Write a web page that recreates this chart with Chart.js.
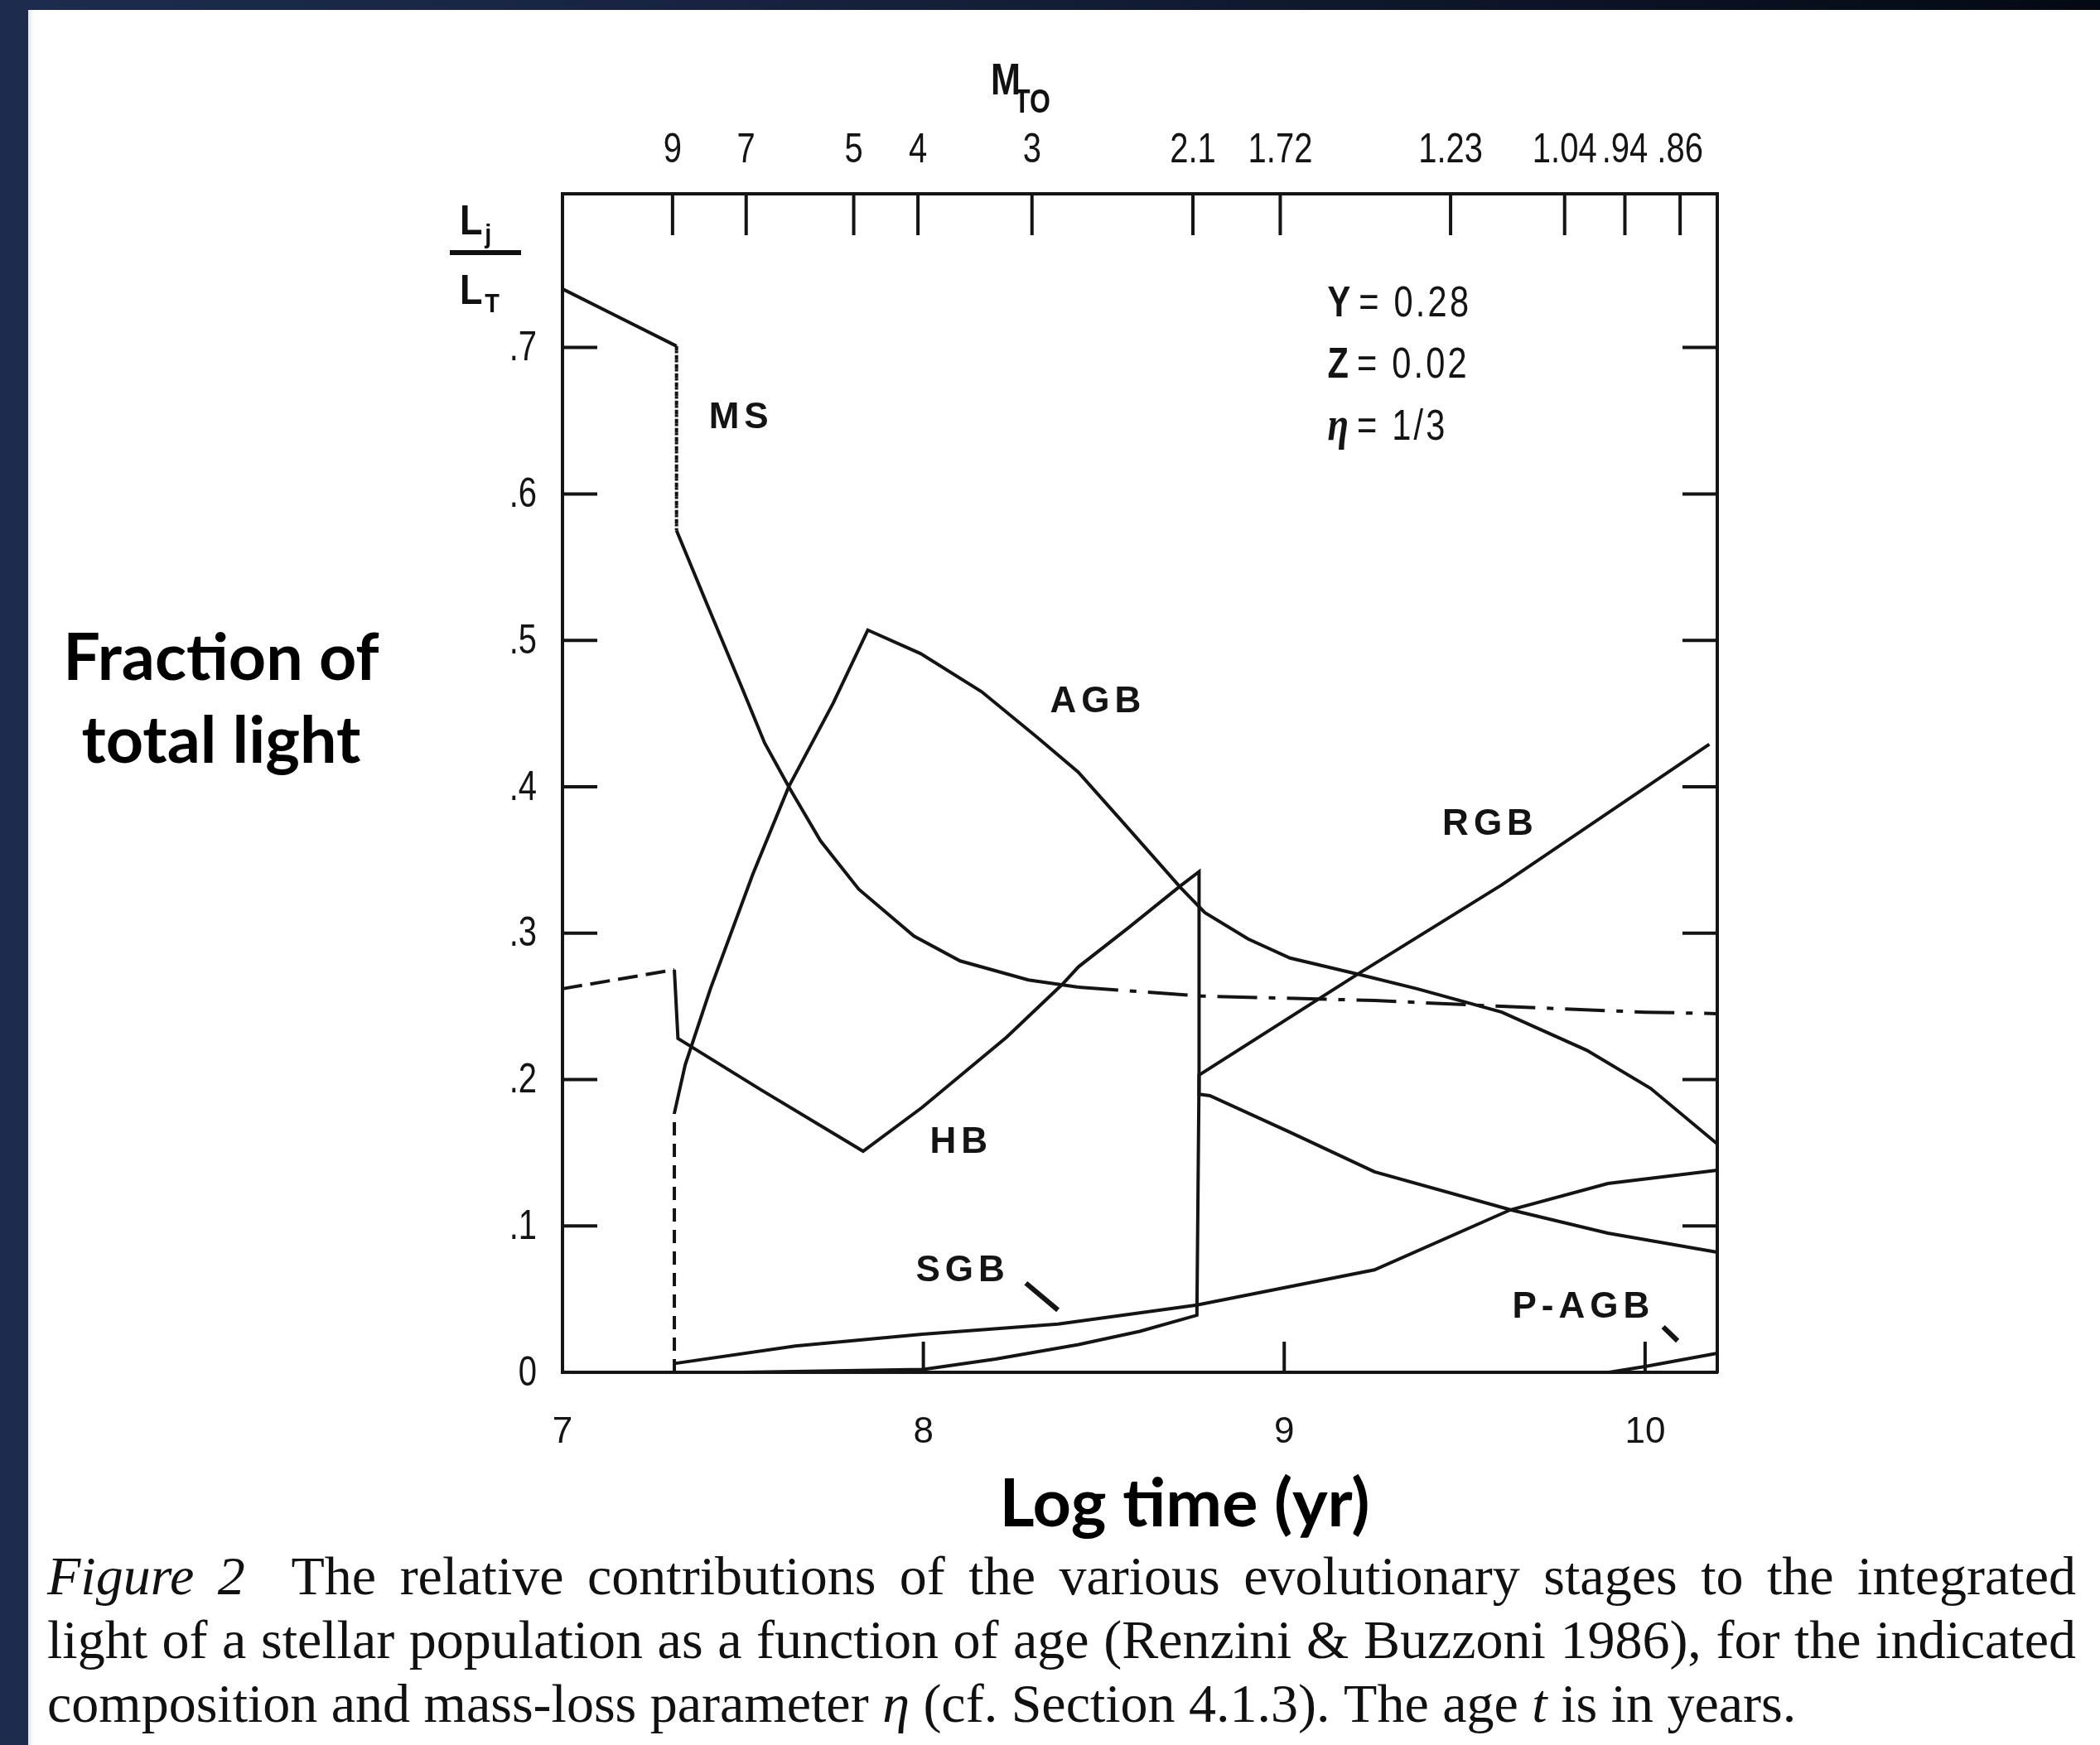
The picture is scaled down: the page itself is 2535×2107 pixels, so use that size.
<!DOCTYPE html>
<html>
<head>
<meta charset="utf-8">
<title>Fraction of total light by evolutionary stage</title>
<script src="https://cdn.jsdelivr.net/npm/chart.js@4.4.1/dist/chart.umd.min.js"></script>
<style>
  html, body { margin: 0; padding: 0; }
  body {
    width: 2535px; height: 2107px; overflow: hidden; position: relative;
    background: linear-gradient(90deg, #1d2c4e 0%, #17233f 35%, #050914 100%);
  }
  #panel {
    position: absolute; left: 34px; top: 12px; right: 0; bottom: 0;
    background: #fff;
    box-shadow: inset 7px 0 6px -5px rgba(0, 0, 0, 0.15);
  }
  #chartBox { position: absolute; left: 0; top: 0; width: 2535px; height: 1790px; }
  .title {
    position: absolute; color: #000; text-align: center;
    font-family: Lato, "Open Sans", sans-serif; font-weight: 700;
  }
  #yTitle { left: 57px; width: 420px; top: 741px; font-size: 79px; line-height: 100px; }
  #xTitle { left: 1030px; width: 800px; top: 1762px; font-size: 81px; line-height: 100px; }
  .ratio {
    position: absolute; left: 555px; font: bold 50px "Liberation Sans", Arial, sans-serif; color: #111;
    transform: scaleX(0.9); transform-origin: left top;
  }
  .ratio sub { font-size: 32px; vertical-align: -10px; margin-left: 3px; }
  #ratioBar { position: absolute; left: 543px; top: 302px; width: 86px; height: 6px; background: #111; }
  .mto {
    position: absolute; color: #111; font-family: "Liberation Sans", Arial, sans-serif; font-weight: bold;
    transform: scaleX(0.8); transform-origin: left top; white-space: nowrap;
  }
  #mtoM { left: 1196px; top: 68px; font-size: 54px; line-height: 54px; }
  #mtoTO { left: 1224px; top: 102px; font-size: 40px; line-height: 40px; }
  #caption {
    position: absolute; left: 57px; width: 2449px; top: 1864px;
    font-family: "Liberation Serif", "Times New Roman", serif; font-size: 66px; line-height: 77px; color: #111;
  }
  #caption .line { white-space: nowrap; }
  #caption .just { text-align: justify; text-align-last: justify; }
</style>
</head>
<body>
<div id="panel"></div>
<div id="chartBox"><canvas id="lightChart" width="2535" height="1790"></canvas></div>

<div class="ratio" style="top:237px">L<sub>j</sub></div>
<div id="ratioBar"></div>
<div class="ratio" style="top:321px">L<sub>T</sub></div>
<div id="mtoM" class="mto">M</div>
<div id="mtoTO" class="mto">TO</div>

<div id="yTitle" class="title">Fraction of<br>total light</div>
<div id="xTitle" class="title">Log time (yr)</div>

<div id="caption">
  <div class="line just"><i>Figure 2</i>&nbsp; The relative contributions of the various evolutionary stages to the integrated</div>
  <div class="line just">light of a stellar population as a function of age (Renzini &amp; Buzzoni 1986), for the indicated</div>
  <div class="line">composition and mass-loss parameter <i>η</i> (cf. Section 4.1.3). The age <i>t</i> is in years.</div>
</div>

<script>
const INK = '#141414';
const SANS = '"Liberation Sans", Arial, sans-serif';
const SQUEEZE = 0.8;   // horizontal squeeze for the condensed lettering

// axis ticks
const logTimeTicks = [7, 8, 9, 10];
const fractionTicks = [0, 0.1, 0.2, 0.3, 0.4, 0.5, 0.6, 0.7];

// turnoff mass scale along the top edge
const turnoffMassLabels = ['9', '7', '5', '4', '3', '2.1', '1.72', '1.23', '1.04', '.94', '.86'];
const turnoffLogTime = [7.305, 7.509, 7.807, 7.985, 8.301, 8.747, 8.989, 9.461, 9.777, 9.944, 10.097];

// main sequence
const msLogT = [7.0, 7.13, 7.316, 7.316, 7.40, 7.50, 7.56, 7.627, 7.715, 7.821, 7.974, 8.102, 8.291, 8.43, 8.77, 9.25, 9.60, 10.0, 10.2];
const msFrac = [0.740, 0.724, 0.701, 0.575, 0.525, 0.466, 0.430, 0.400, 0.363, 0.330, 0.298, 0.281, 0.268, 0.263, 0.257, 0.254, 0.250, 0.246, 0.245];

// asymptotic giant branch
const agbLogT = [7.31, 7.31, 7.34, 7.41, 7.527, 7.627, 7.75, 7.846, 7.992, 8.161, 8.314, 8.429, 8.552, 8.713, 8.78, 8.90, 9.016, 9.204, 9.368, 9.603, 9.838, 10.015, 10.2];
const agbFrac = [0.0, 0.177, 0.210, 0.262, 0.340, 0.400, 0.457, 0.507, 0.491, 0.465, 0.434, 0.410, 0.376, 0.331, 0.314, 0.296, 0.283, 0.272, 0.262, 0.246, 0.220, 0.194, 0.156];

// core helium burning / horizontal branch
const hbLogT = [7.0, 7.31, 7.32, 7.55, 7.833, 7.997, 8.231, 8.385, 8.43, 8.57, 8.711, 8.764, 8.764, 8.794, 9.016, 9.25, 9.627, 9.897, 10.2];
const hbFrac = [0.262, 0.275, 0.228, 0.193, 0.151, 0.181, 0.229, 0.265, 0.277, 0.304, 0.332, 0.342, 0.190, 0.189, 0.164, 0.137, 0.111, 0.095, 0.082];

// red giant branch
const rgbLogT = [7.0, 7.5, 8.0, 8.2, 8.43, 8.6, 8.758, 8.764, 9.204, 9.603, 10.178];
const rgbFrac = [0.0, 0.0, 0.002, 0.009, 0.019, 0.028, 0.039, 0.203, 0.272, 0.333, 0.429];

// subgiant branch
const sgbLogT = [7.31, 7.645, 7.997, 8.373, 8.758, 9.25, 9.627, 9.897, 10.2];
const sgbFrac = [0.006, 0.018, 0.026, 0.033, 0.046, 0.070, 0.111, 0.129, 0.138];

// post-AGB
const pagbLogT = [9.9, 10.0, 10.2];
const pagbFrac = [0.0, 0.004, 0.013];

// curve names and model parameters written inside the frame
const stageNames = ['MS', 'AGB', 'RGB', 'HB', 'SGB', 'P-AGB'];
const stageNameAt = [[7.495, 0.652], [8.484, 0.458], [9.571, 0.374], [8.105, 0.157], [8.109, 0.069], [9.829, 0.044]];
const pointerFrom = [[8.284, 0.061], [10.05, 0.031]];
const pointerTo = [[8.373, 0.0425], [10.09, 0.0215]];
const paramSymbols = ['Y', 'Z', 'η'];
const paramValues = ['= 0.28', '= 0.02', '= 1/3'];
const paramRows = [0.7214, 0.6795, 0.637];

function stage(label, xs, ys, extra) {
  return Object.assign({
    label,
    data: xs.map((x, i) => ({ x, y: ys[i] })),
    borderColor: INK,
    borderWidth: 4,
    pointRadius: 0,
    tension: 0,
    fill: false,
    clip: false
  }, extra || {});
}

const vertical = ctx => ctx.p0.parsed.x === ctx.p1.parsed.x;

// draw text squeezed horizontally around its anchor
function squeezed(ctx, text, x, y) {
  ctx.save();
  ctx.translate(x, y);
  ctx.scale(SQUEEZE, 1);
  ctx.fillText(text, 0, 0);
  ctx.restore();
}

// inward tick marks on all four sides
const tickMarks = {
  id: 'tickMarks',
  afterDraw(chart) {
    const { ctx, chartArea: a, scales } = chart;
    ctx.save();
    ctx.strokeStyle = INK;
    ctx.lineWidth = 4;
    ctx.beginPath();
    scales.y.ticks.forEach(t => {
      if (t.value === 0) return;
      const py = scales.y.getPixelForValue(t.value);
      ctx.moveTo(a.left, py); ctx.lineTo(a.left + 42, py);
      ctx.moveTo(a.right, py); ctx.lineTo(a.right - 42, py);
    });
    scales.x.ticks.forEach(t => {
      if (t.value === 7) return;
      const px = scales.x.getPixelForValue(t.value);
      ctx.moveTo(px, a.bottom); ctx.lineTo(px, a.bottom - 37);
    });
    scales.xTop.ticks.forEach(t => {
      const px = scales.xTop.getPixelForValue(t.value);
      ctx.moveTo(px, a.top); ctx.lineTo(px, a.top + 50);
    });
    ctx.stroke();
    ctx.restore();
  }
};

// condensed tick labels for the fraction axis and the turnoff mass axis
const narrowLabels = {
  id: 'narrowLabels',
  afterDraw(chart) {
    const { ctx, chartArea: a, scales } = chart;
    ctx.save();
    ctx.fillStyle = INK;
    ctx.font = '50px ' + SANS;
    ctx.textBaseline = 'middle';
    ctx.textAlign = 'right';
    scales.y.ticks.forEach(t => {
      squeezed(ctx, t.label, a.left - 31, scales.y.getPixelForValue(t.value) + 2);
    });
    ctx.textAlign = 'center';
    scales.xTop.ticks.forEach((t, i) => {
      squeezed(ctx, t.label || turnoffMassLabels[i], scales.xTop.getPixelForValue(t.value), a.top - 52);
    });
    ctx.restore();
  }
};

// stage names, pointer strokes and the composition block
const stageText = {
  id: 'stageText',
  afterDatasetsDraw(chart) {
    const { ctx, scales: { x, y } } = chart;
    ctx.save();
    ctx.fillStyle = INK;
    ctx.textAlign = 'center';
    ctx.textBaseline = 'middle';
    ctx.font = 'bold 44px ' + SANS;
    ctx.letterSpacing = '6px';
    stageNames.forEach((name, i) => {
      ctx.fillText(name, x.getPixelForValue(stageNameAt[i][0]), y.getPixelForValue(stageNameAt[i][1]));
    });
    ctx.letterSpacing = '0px';

    ctx.strokeStyle = INK;
    ctx.lineWidth = 6;
    pointerFrom.forEach((p, i) => {
      ctx.beginPath();
      ctx.moveTo(x.getPixelForValue(p[0]), y.getPixelForValue(p[1]));
      ctx.lineTo(x.getPixelForValue(pointerTo[i][0]), y.getPixelForValue(pointerTo[i][1]));
      ctx.stroke();
    });

    ctx.textAlign = 'left';
    ctx.textBaseline = 'alphabetic';
    const left = x.getPixelForValue(9.12);
    paramSymbols.forEach((sym, i) => {
      const py = y.getPixelForValue(paramRows[i]);
      ctx.font = sym === 'η' ? 'italic bold 58px "Liberation Serif", serif' : 'bold 52px ' + SANS;
      squeezed(ctx, sym, left, py);
      const w = ctx.measureText(sym).width * SQUEEZE;
      ctx.font = '52px ' + SANS;
      ctx.letterSpacing = '4px';
      squeezed(ctx, paramValues[i], left + w + 10, py);
      ctx.letterSpacing = '0px';
    });
    ctx.restore();
  }
};

new Chart(document.getElementById('lightChart').getContext('2d'), {
  type: 'line',
  data: {
    datasets: [
      stage('MS', msLogT, msFrac, {
        segment: {
          borderDash: ctx => vertical(ctx) ? [3, 8] : (ctx.p0.parsed.x >= 8.43 ? [48, 14, 8, 14] : undefined)
        }
      }),
      stage('AGB', agbLogT, agbFrac, {
        segment: { borderDash: ctx => (vertical(ctx) && ctx.p0.parsed.y === 0) ? [16, 10] : undefined }
      }),
      stage('HB', hbLogT, hbFrac, {
        segment: { borderDash: ctx => ctx.p1.parsed.x <= 7.31 ? [24, 10] : undefined }
      }),
      stage('RGB', rgbLogT, rgbFrac),
      stage('SGB', sgbLogT, sgbFrac),
      stage('P-AGB', pagbLogT, pagbFrac)
    ]
  },
  options: {
    responsive: false,
    devicePixelRatio: 1,
    animation: false,
    events: [],
    layout: { padding: { left: 559, right: 462, top: 134, bottom: 33 } },
    plugins: {
      legend: { display: false },
      tooltip: { enabled: false }
    },
    scales: {
      x: {
        type: 'linear',
        position: 'bottom',
        min: 7,
        max: 10.2,
        afterBuildTicks: s => { s.ticks = logTimeTicks.map(v => ({ value: v })); },
        afterFit: s => { s.height = 100; },
        grid: { display: false, drawTicks: false },
        border: { display: true, color: INK, width: 4 },
        ticks: { color: INK, padding: 46, font: { family: SANS, size: 44 }, callback: v => String(v) }
      },
      xTop: {
        type: 'linear',
        position: 'top',
        min: 7,
        max: 10.2,
        afterBuildTicks: s => { s.ticks = turnoffLogTime.map(v => ({ value: v })); },
        afterFit: s => { s.height = 100; },
        grid: { display: false, drawTicks: false },
        border: { display: true, color: INK, width: 4 },
        ticks: { display: false, autoSkip: false, callback: (v, i) => turnoffMassLabels[i] }
      },
      y: {
        type: 'linear',
        position: 'left',
        min: 0,
        max: 0.805,
        afterBuildTicks: s => { s.ticks = fractionTicks.map(v => ({ value: v })); },
        afterFit: s => { s.width = 120; },
        grid: { display: false, drawTicks: false },
        border: { display: true, color: INK, width: 4 },
        ticks: { display: false, callback: v => v === 0 ? '0' : '.' + Math.round(v * 10) }
      },
      yRight: {
        type: 'linear',
        position: 'right',
        min: 0,
        max: 0.805,
        afterFit: s => { s.width = 0; },
        grid: { display: false, drawTicks: false },
        border: { display: true, color: INK, width: 4 },
        ticks: { display: false }
      }
    }
  },
  plugins: [tickMarks, narrowLabels, stageText]
});
</script>
</body>
</html>
